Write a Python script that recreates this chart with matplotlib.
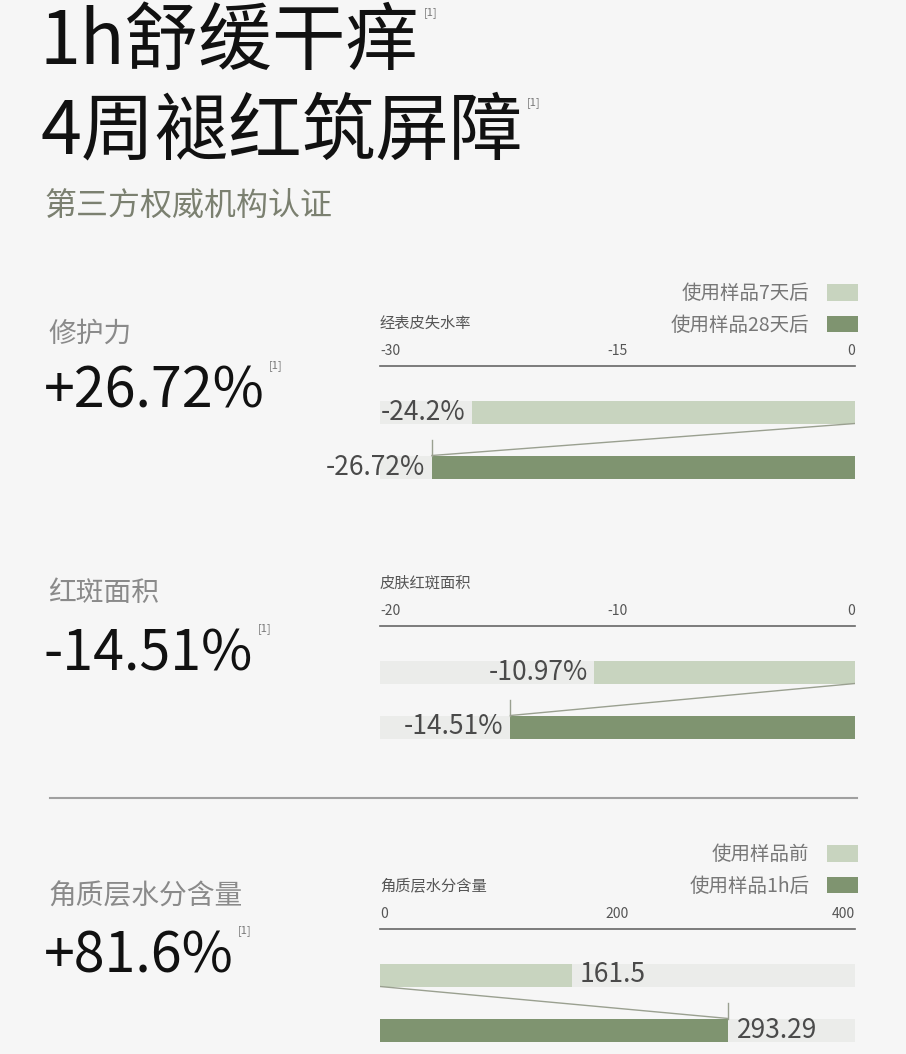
import matplotlib.pyplot as plt
from matplotlib.patches import Patch

plt.rcParams['font.family'] = ['Noto Sans CJK SC', 'DejaVu Sans']

# chart data
titles = ['1h舒缓干痒', '4周褪红筑屏障']
subtitle = '第三方权威机构认证'

metric_names = ['修护力', '红斑面积', '角质层水分含量']
metric_values = ['+26.72%', '-14.51%', '+81.6%']

chart_labels = ['经表皮失水率', '皮肤红斑面积', '角质层水分含量']
chart_ticks = [[-30, -15, 0], [-20, -10, 0], [0, 200, 400]]
chart_values = [[-24.2, -26.72], [-10.97, -14.51], [161.5, 293.29]]
value_texts = [['-24.2%', '-26.72%'], ['-10.97%', '-14.51%'], ['161.5', '293.29']]

legend_days = ['使用样品7天后', '使用样品28天后']
legend_hour = ['使用样品前', '使用样品1h后']

# colours
BG = '#f6f6f6'
LIGHT = '#c8d4bf'
DARK = '#7f9470'
TRACK = '#ebecea'
LINK = '#9aa090'

W, H = 906, 1054
fig = plt.figure(figsize=(W / 100, H / 100), dpi=100, facecolor=BG)

# overlay axes in pixel units for the free text
base = fig.add_axes([0, 0, 1, 1])
base.set_xlim(0, W)
base.set_ylim(H, 0)
base.axis('off')
base.patch.set_alpha(0)


def sup(txt_artist, dy=2):
    base.annotate('[1]', xy=(1, 1), xycoords=txt_artist, xytext=(3, dy),
                  textcoords='offset points', ha='left', va='top',
                  fontsize=8, color='#777777')


t1 = base.text(40, 43, titles[0], fontsize=53, color='#111111', va='center')
sup(t1, dy=-1)
t2 = base.text(40, 133, titles[1], fontsize=53, color='#111111', va='center')
sup(t2, dy=-1)
base.text(45, 206, subtitle, fontsize=23, color='#7b8070', va='center')

name_y = [334, 593, 896]
value_y = [392, 655, 957]
for name, val, ny, vy in zip(metric_names, metric_values, name_y, value_y):
    base.text(48, ny, name, fontsize=20, color='#8a8a8a', va='center')
    tv = base.text(44, vy, val, fontsize=40, color='#111111', va='center')
    sup(tv)

# divider
base.plot([50, 857], [798, 798], color='#a0a0a0', lw=1.5)

# bar charts
axis_y = [366, 626, 929]
x0, x1 = 380, 855
span = 120
bar_h = 23
rows = [46, 101]

for k in range(3):
    ax = fig.add_axes([x0 / W, 1 - (axis_y[k] + span) / H, (x1 - x0) / W, span / H])
    ticks = chart_ticks[k]
    lo, hi = ticks[0], ticks[-1]
    ax.set_xlim(lo, hi)
    ax.set_ylim(span, 0)
    ax.patch.set_alpha(0)
    for s in ['left', 'right', 'bottom']:
        ax.spines[s].set_visible(False)
    ax.spines['top'].set_color('#666666')
    ax.spines['top'].set_linewidth(1.2)
    ax.xaxis.tick_top()
    ax.set_xticks(ticks)
    ax.set_xticklabels([str(t) for t in ticks], fontsize=10, color='#555555')
    ax.tick_params(axis='x', length=0, pad=6)
    labs = ax.get_xticklabels()
    labs[0].set_ha('left')
    labs[-1].set_ha('right')
    ax.set_yticks([])
    ax.text(0, 1 + 34 / span, chart_labels[k], transform=ax.transAxes, fontsize=11,
            color='#555555', va='bottom', ha='left')

    vals = chart_values[k]
    for i, (v, ty) in enumerate(zip(vals, rows)):
        ax.barh(ty, hi - lo, left=lo, height=bar_h, color=TRACK, zorder=1)
        ax.barh(ty, v, left=0, height=bar_h, color=LIGHT if i == 0 else DARK, zorder=2)
        if v < 0:
            ax.annotate(value_texts[k][i], xy=(v, ty), xytext=(-5, 0),
                        textcoords='offset points', ha='right', va='center',
                        fontsize=19, color='#4a4a4a', zorder=3)
        else:
            ax.annotate(value_texts[k][i], xy=(v, ty), xytext=(6, 0),
                        textcoords='offset points', ha='left', va='center',
                        fontsize=19, color='#4a4a4a', zorder=3)

    # connector from first bar base to second bar end
    y_a = rows[0] + bar_h / 2
    y_b = rows[1] - bar_h / 2
    ax.plot([0, vals[1]], [y_a, y_b], color=LINK, lw=1, zorder=4)
    ax.plot([vals[1], vals[1]], [y_b - 16, y_b], color=LINK, lw=1, zorder=4)

# legends
for labels, top in [(legend_days, 283), (legend_hour, 844)]:
    handles = [Patch(facecolor=LIGHT, edgecolor='none'), Patch(facecolor=DARK, edgecolor='none')]
    fig.legend(handles, labels, loc='upper right', bbox_to_anchor=(858 / W, 1 - top / H),
               frameon=False, markerfirst=False, fontsize=14, labelcolor='#777777',
               handlelength=1.6, handleheight=0.95, handletextpad=0.9, labelspacing=0.55,
               borderpad=0, borderaxespad=0)

fig.savefig('out.png', dpi=100, facecolor=BG)
